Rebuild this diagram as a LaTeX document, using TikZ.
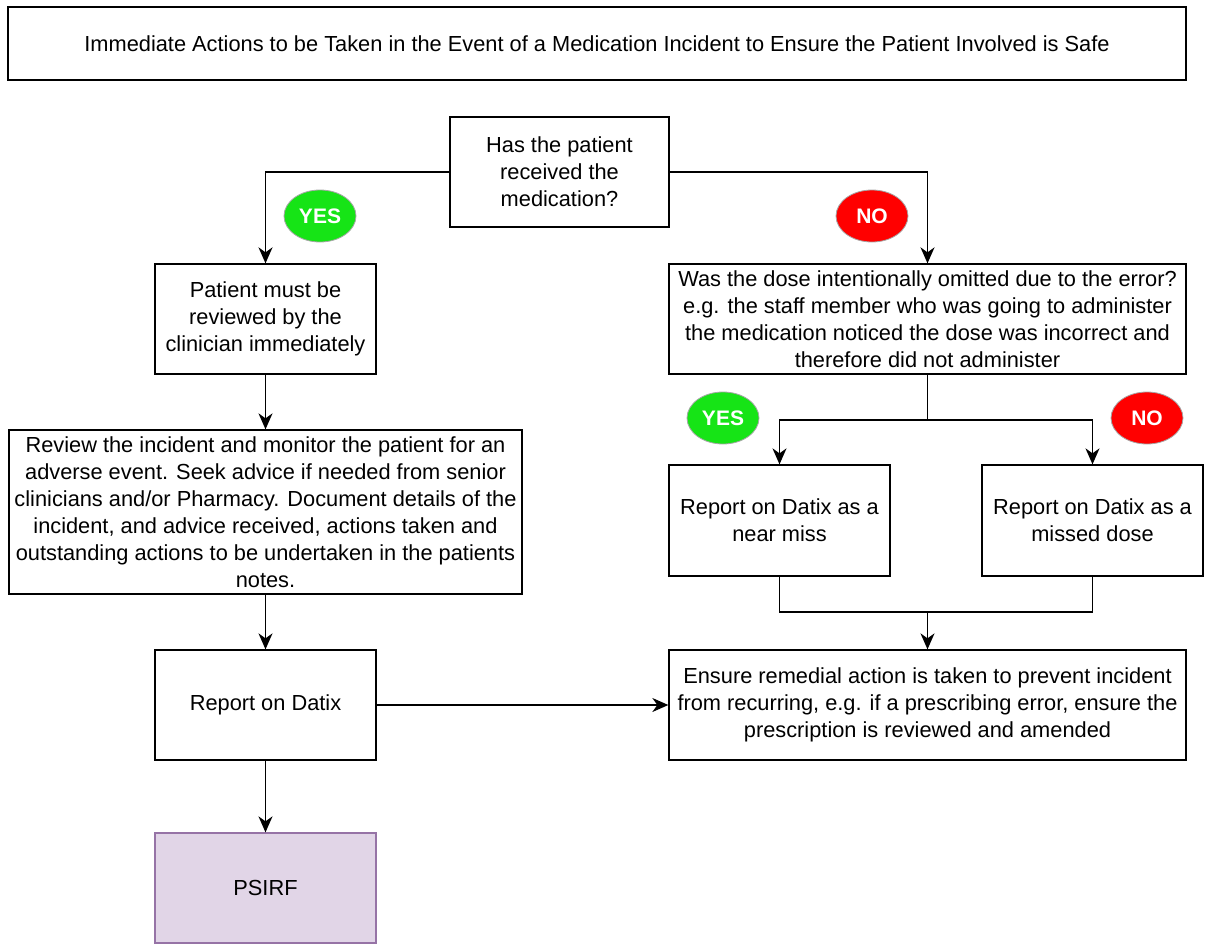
\documentclass[tikz,border=0pt]{standalone}
\usepackage{fontspec}
\setmainfont{Liberation Sans}
\usetikzlibrary{positioning,arrows.meta,shapes.geometric}
\definecolor{yesgreen}{RGB}{22,228,22}
\definecolor{nored}{RGB}{255,0,0}
\definecolor{psfill}{RGB}{225,213,231}
\definecolor{psline}{RGB}{150,115,166}

\begin{document}
\begin{tikzpicture}[x=1pt,y=-1pt,>={Stealth[length=16pt,width=14pt,inset=5pt]},
  b/.style={draw,line width=1.3pt,align=center,inner sep=0pt,font=\fontsize{21.8}{27}\selectfont},
  tag/.style={ellipse,draw=gray!70,line width=0.8pt,minimum width=72pt,minimum height=52pt,inner sep=0pt,
    text=white,font=\fontsize{21}{24}\selectfont\bfseries},
  conn/.style={line width=1.5pt}]
\useasboundingbox (0,0) rectangle (1208,945);
% title
\node[b,minimum width=1178pt,minimum height=73pt] (title) at (597,43.5)
  {Immediate Actions to be Taken in the Event of a Medication Incident to Ensure the Patient Involved is Safe};
% first question
\node[b,minimum width=219pt,minimum height=110pt] (Q1) at (559.5,172)
  {Has the patient\\received the\\medication?};
\node[tag,fill=yesgreen] (Y1) at (320,216) {YES};
\node[tag,fill=nored] (N1) at (872,216) {NO};
% left branch
\node[b,minimum width=221pt,minimum height=110pt] (A) at (265.5,319)
  {Patient must be\\reviewed by the\\clinician immediately};
\node[b,minimum width=513pt,minimum height=164pt] (B) at (265.5,512)
  {Review the incident and monitor the patient for an\\adverse event. Seek advice if needed from senior\\clinicians and/or Pharmacy. Document details of the\\incident, and advice received, actions taken and\\outstanding actions to be undertaken in the patients\\notes.};
\node[b,minimum width=221pt,minimum height=110pt] (C) at (265.5,705) {Report on Datix};
\node[b,draw=psline,fill=psfill,minimum width=221pt,minimum height=110pt] (P) at (265.5,888) {PSIRF};
% right branch
\node[b,minimum width=517pt,minimum height=110pt] (D) at (927.5,319)
  {Was the dose intentionally omitted due to the error?\\e.g. the staff member who was going to administer\\the medication noticed the dose was incorrect and\\therefore did not administer};
\node[tag,fill=yesgreen] (Y2) at (723,418) {YES};
\node[tag,fill=nored] (N2) at (1147,418) {NO};
\node[b,minimum width=221pt,minimum height=111pt] (E) at (779.5,520.5) {Report on Datix as a\\near miss};
\node[b,minimum width=221pt,minimum height=111pt] (F) at (1092.5,520.5) {Report on Datix as a\\missed dose};
\node[b,minimum width=517pt,minimum height=110pt] (G) at (927.5,705)
  {Ensure remedial action is taken to prevent incident\\from recurring, e.g. if a prescribing error, ensure the\\prescription is reviewed and amended};
% connectors
\draw[conn,->] (Q1.west) -| (A.north);
\draw[conn,->] (Q1.east) -| (D.north);
\draw[conn,->] (A) -- (B);
\draw[conn,->] (B) -- (C);
\draw[conn,->] (C) -- (P);
\draw[conn,->] (C) -- (G);
\coordinate (split) at (927.5,420);
\draw[conn] (D.south) -- (split);
\draw[conn,->] (split) -| (E.north);
\draw[conn,->] (split) -| (F.north);
\coordinate (join) at (927.5,612);
\draw[conn] (E.south) |- (join) -| (F.south);
\draw[conn,->] (join) -- (G.north);
\end{tikzpicture}
\end{document}
